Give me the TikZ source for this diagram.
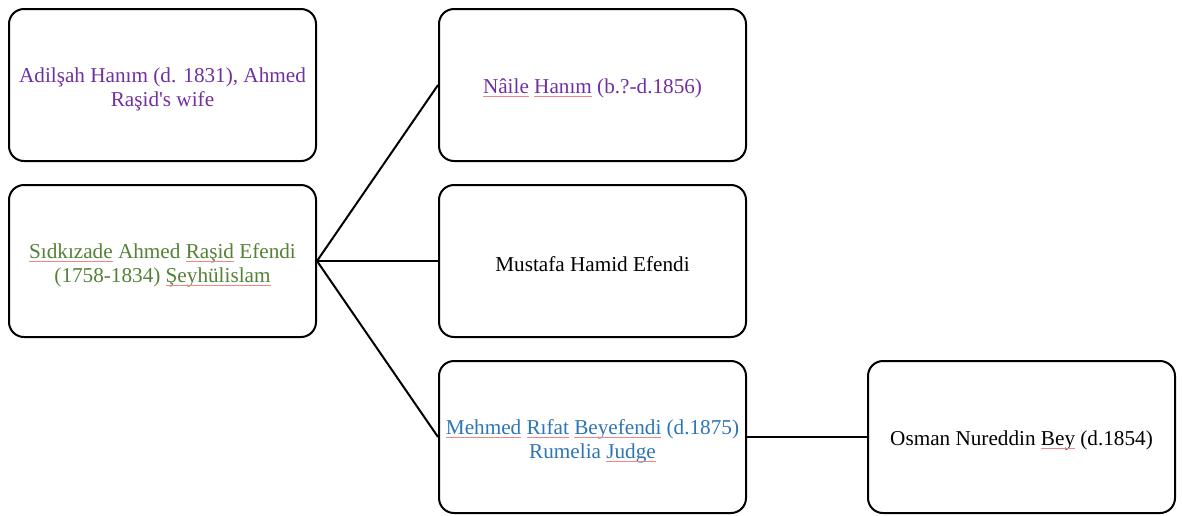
\documentclass[tikz,border=0pt]{standalone}
\usepackage{fontspec}
\setmainfont{Liberation Serif}[Ligatures=TeXOff]
\definecolor{wordpurple}{HTML}{7030A0}
\definecolor{wordgreen}{HTML}{538135}
\definecolor{wordblue}{HTML}{2E75B6}
\definecolor{spellred}{HTML}{EE8888}
% thin pale underline used for flagged words
\newcommand{\flag}[1]{\leavevmode\setbox0=\hbox{#1}\copy0\relax
  \llap{\textcolor{spellred}{\rule[-3.4pt]{\wd0}{0.8pt}}}}
% taller first line, so the text block sits a little lower in its box
\newcommand{\tallstrut}{\rule{0pt}{23.5pt}}
\begin{document}
\begin{tikzpicture}[x=1pt,y=-1pt,
  person/.style={draw=black, line width=2pt, rounded corners=15pt,
    minimum width=307pt, minimum height=152pt, inner sep=0pt,
    align=center, font=\fontsize{21.2}{23.5}\selectfont},
  oneline/.style={execute at begin node={\rule{0pt}{21pt}}},
  link/.style={line width=2pt}]
\useasboundingbox (0,0) rectangle (1182,515);

\node[person, text=wordpurple] (adil) at (162.5,85)
  {\tallstrut Adilşah Hanım (d. 1831), Ahmed\\Raşid's wife};
\node[person, text=wordgreen] (rasid) at (162.5,261)
  {\tallstrut\flag{Sıdkızade} Ahmed \flag{Raşid} Efendi\\(1758-1834) \flag{Şeyhülislam}};
\node[person, oneline, text=wordpurple] (naile) at (592.5,85)
  {\flag{Nâile} \flag{Hanım} (b.?-d.1856)};
\node[person, oneline] (mustafa) at (592.5,261) {Mustafa Hamid Efendi};
\node[person, text=wordblue] (mehmed) at (592.5,437)
  {\tallstrut\flag{Mehmed} \flag{Rıfat} \flag{Beyefendi} (d.1875)\\Rumelia \flag{Judge}};
\node[person, oneline] (osman) at (1021.5,437) {Osman Nureddin \flag{Bey} (d.1854)};

\draw[link] (rasid.east) -- (naile.west);
\draw[link] (rasid.east) -- (mustafa.west);
\draw[link] (rasid.east) -- (mehmed.west);
\draw[link] (mehmed.east) -- (osman.west);
\end{tikzpicture}
\end{document}
